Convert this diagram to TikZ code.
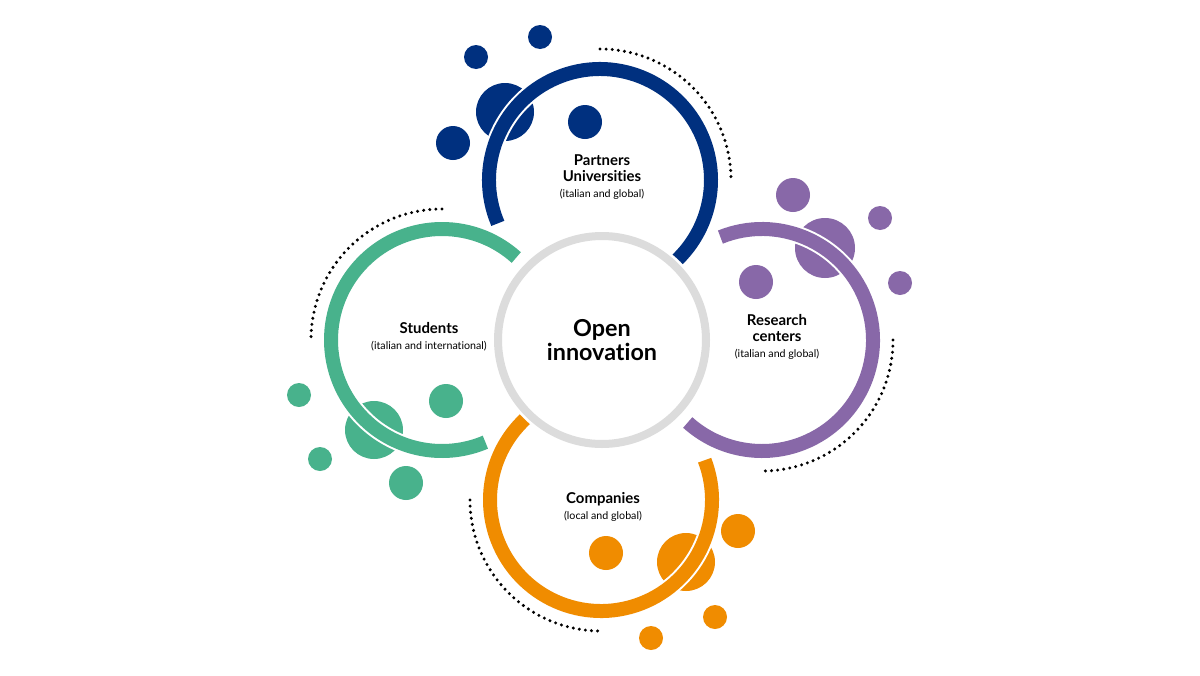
\documentclass[tikz,border=0pt]{standalone}
\usepackage{fontspec}
\setmainfont{Lato}[Ligatures=CommonOff]
\definecolor{uniblue}{HTML}{00307F}
\definecolor{stugreen}{HTML}{48B28C}
\definecolor{respurple}{HTML}{8868A8}
\definecolor{comporange}{HTML}{F08C00}
\definecolor{hubgrey}{HTML}{DCDCDC}
\tikzstyle{ring} = [line width=10.5pt,
                    preaction={draw=white, line width=13.5pt}]
\tikzstyle{dots} = [black,
                    line width=2.5pt,
                    line cap=round,
                    dash pattern=on 0pt off 4.6pt]
\tikzstyle{hub} = [circle,
                   minimum size=156pt,
                   draw=hubgrey,
                   line width=6pt,
                   fill=white,
                   preaction={draw=white, line width=10pt},
                   align=center,
                   font=\fontsize{17.5}{18}\selectfont\bfseries]
\tikzstyle{ringtext} = [align=center,
                        font=\fontsize{11.2}{12}\selectfont\bfseries]
\tikzstyle{wheel} = [x=0.75pt,
                     y=-0.75pt]
\newcommand{\subline}[1]{{\fontsize{8}{9}\selectfont\mdseries #1}}

\begin{document}
\begin{tikzpicture}[wheel]
    \path[fill=white, use as bounding box] (0,0) rectangle (1200,675);
    \coordinate (c0) at (602,340);
    \coordinate (c1) at (600,180);
    \coordinate (c2) at (442,340);
    \coordinate (c3) at (762,340);
    \coordinate (c4) at (601,500);
    % bubbles
    \foreach \x/\y/\r in {540/37/12, 476/57/12, 505/112/29, 453/143/17, 585/122/17}
      \fill[uniblue] (\x,\y) circle[radius=\r];
    \foreach \x/\y/\r in {299/395/12, 374/430/29, 446/401/17, 320/459/12, 406/483/17}
      \fill[stugreen] (\x,\y) circle[radius=\r];
    \foreach \x/\y/\r in {793/195/17, 880/218/12, 825/248/30, 900/283/12, 756/282/17}
      \fill[respurple] (\x,\y) circle[radius=\r];
    \foreach \x/\y/\r in {606/553/17, 686/562/29, 738/531/17, 715/617/12, 651/638/12}
      \fill[comporange] (\x,\y) circle[radius=\r];
    % dotted arcs
    \draw[dots] (c1) ++(-90:131) arc[start angle=-90, end angle=0, radius=131];
    \draw[dots] (c2) ++(-90:131) arc[start angle=-90, end angle=-180, radius=131];
    \draw[dots] (c3) ++(0:131) arc[start angle=0, end angle=90, radius=131];
    \draw[dots] (c4) ++(180:131) arc[start angle=180, end angle=90, radius=131];
    % rings
    \draw[ring, uniblue] (c1) ++(-203:111) arc[start angle=-203, end angle=80, radius=111];
    \draw[ring, stugreen] (c2) ++(-48:111) arc[start angle=-48, end angle=-293, radius=111];
    \draw[ring, respurple] (c3) ++(-112:111) arc[start angle=-112, end angle=132, radius=111];
    \draw[ring, comporange] (c4) ++(-21:111) arc[start angle=-21, end angle=260, radius=111];
    % texts
    \node (0) at (c0) [hub] {Open\\innovation};
    \node (1) at (602,177) [ringtext] {Partners\\Universities\\\subline{(italian and global)}};
    \node (2) at (429,337) [ringtext] {Students\\\subline{(italian and international)}};
    \node (3) at (777,337) [ringtext] {Research\\centers\\\subline{(italian and global)}};
    \node (4) at (603,507) [ringtext] {Companies\\\subline{(local and global)}};
\end{tikzpicture}
\end{document}
